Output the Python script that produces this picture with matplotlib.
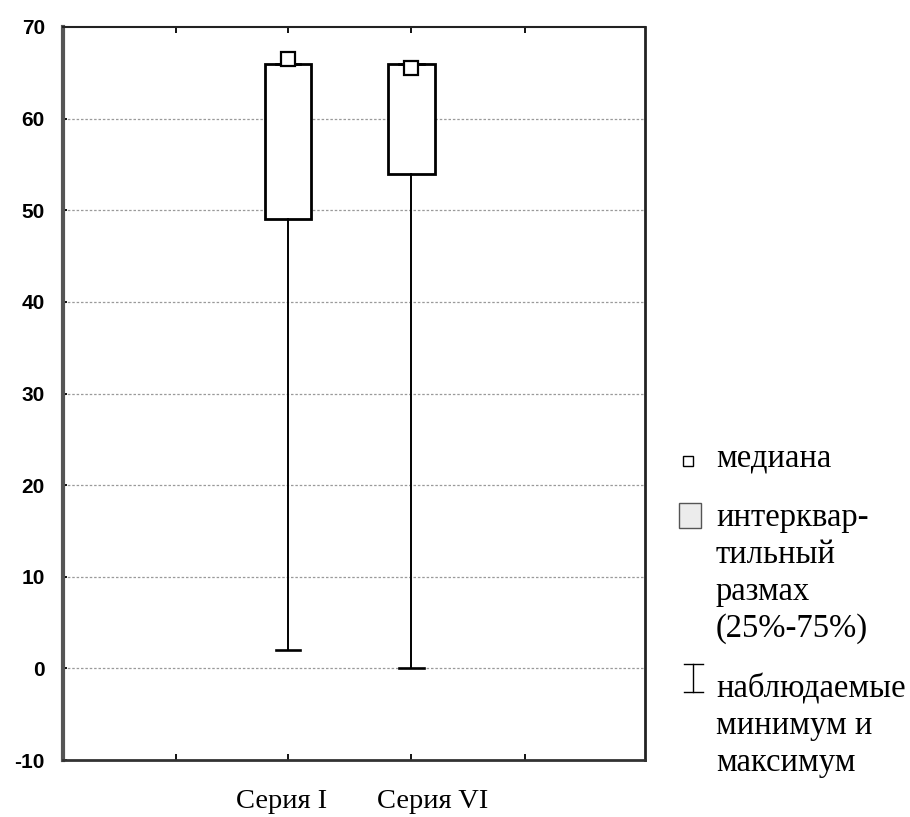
import matplotlib
matplotlib.use("Agg")
import matplotlib.pyplot as plt
from matplotlib.patches import Rectangle
from matplotlib.lines import Line2D
from matplotlib.transforms import ScaledTranslation

# Data
categories = ["Серия I", "Серия VI"]
medians = [66.5, 65.5]
q1 = [49, 54]
q3 = [66, 66]
mins = [2, 0]
maxs = [66, 66]
yticks = [-10, 0, 10, 20, 30, 40, 50, 60, 70]
legend_lines = [
    ["медиана"],
    ["интерквар-", "тильный", "размах", "(25%-75%)"],
    ["наблюдаемые", "минимум и", "максимум"],
]

positions = [2, 3]

W, H = 910, 817
fig = plt.figure(figsize=(W / 100, H / 100), dpi=100)
ax = fig.add_axes([63 / W, 1 - 760 / H, (645 - 63) / W, (760 - 27) / H])

stats = []
for lab, m, a, b, lo, hi in zip(categories, medians, q1, q3, mins, maxs):
    stats.append(dict(label=lab, med=m, q1=a, q3=b, whislo=lo, whishi=hi, fliers=[]))

ax.bxp(stats, positions=positions, widths=0.375, capwidths=0.195,
       showfliers=False, patch_artist=True,
       boxprops=dict(facecolor="white", edgecolor="black", linewidth=2.0),
       whiskerprops=dict(color="black", linewidth=1.4),
       capprops=dict(color="black", linewidth=1.9),
       medianprops=dict(visible=False), zorder=3)

ax.plot(positions, medians, ls="none", marker="s", markersize=9.5,
        markerfacecolor="white", markeredgecolor="black",
        markeredgewidth=1.6, zorder=5)

ax.set_xlim(0.178, 4.891)
ax.set_ylim(-10, 70)
ax.set_xticks([1.093, 2, 3, 3.919])
ax.set_xticklabels(["", categories[0], categories[1], ""],
                   fontfamily="Liberation Serif", fontsize=20.5)
ax.set_yticks(yticks)
ax.set_yticklabels([str(v) for v in yticks], fontfamily="Liberation Sans",
                   fontweight="bold", fontsize=15)
ax.tick_params(axis="x", direction="in", length=4, width=1.3, pad=21,
               top=True, bottom=True)
ax.tick_params(axis="y", direction="in", length=3, width=1.3, pad=13)

# category labels sit slightly off their ticks
for lbl, dx in zip(ax.get_xticklabels(), [0, -6, 21, 0]):
    lbl.set_transform(lbl.get_transform() + ScaledTranslation(dx / 100, 0, fig.dpi_scale_trans))

for v in yticks[1:-1]:
    ax.axhline(v, color="#9a9a9a", linewidth=0.9, linestyle=(0, (2, 1.5)), zorder=1)

for side, sp in ax.spines.items():
    sp.set_color("#222222")
    sp.set_linewidth(1.5)
ax.spines["left"].set_linewidth(3.0)
ax.spines["left"].set_color("#555555")
ax.spines["bottom"].set_linewidth(2.0)
ax.spines["bottom"].set_color("#333333")
ax.spines["right"].set_linewidth(2.0)


# Legend drawn in figure pixel coordinates
def fx(px):
    return px / W


def fy(py):
    return 1 - py / H


fig.patches.append(Rectangle((fx(683), fy(466)), 10 / W, 10 / H,
                             transform=fig.transFigure, facecolor="white",
                             edgecolor="black", linewidth=1.0))
fig.patches.append(Rectangle((fx(679), fy(528)), 22 / W, 25 / H,
                             transform=fig.transFigure, facecolor="#ececec",
                             edgecolor="#555555", linewidth=1.0))
for xs, ys in [((693, 693), (664, 692)), ((684, 703), (664, 664)), ((684, 703), (692, 692))]:
    fig.lines.append(Line2D([fx(x) for x in xs], [fy(y) for y in ys],
                            transform=fig.transFigure, color="black", linewidth=1.0))

text_kw = dict(fontfamily="Liberation Serif", fontsize=23.5, va="baseline", ha="left")
baselines = [[466], [526, 563, 600, 637], [697, 734, 771]]
for lines, bls in zip(legend_lines, baselines):
    for line, b in zip(lines, bls):
        fig.text(fx(716), fy(b), line, **text_kw)

fig.savefig("out.png", dpi=100)
